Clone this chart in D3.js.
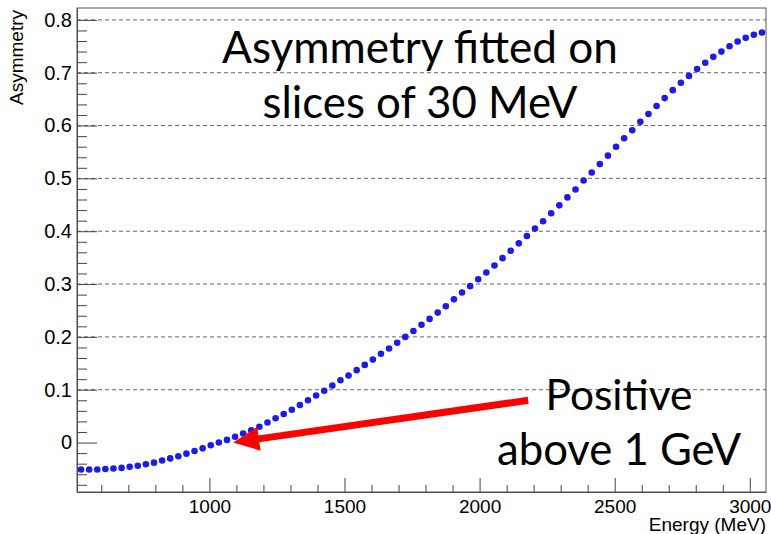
<!DOCTYPE html>
<html>
<head>
<meta charset="utf-8">
<script src="https://cdn.jsdelivr.net/npm/d3@7"></script>
<style>
  body { margin: 0; background: #fff; }
  .axis text { font-family: "Liberation Sans", Arial, sans-serif; font-size: 19px; fill: #000; }
  .yaxis text { font-size: 20px; }
  .axis path, .axis line { stroke: #444; }
  .grid line { stroke: #666; stroke-dasharray: 4,3; }
  .note { font-family: Lato, "Open Sans", sans-serif; fill: #000; }
</style>
</head>
<body>
<div id="chart"></div>
<script>
var WIDTH = 771;
var HEIGHT = 534;

// bin centres of the 30 MeV slices
var energy = [525, 555, 585, 615, 645, 675, 705, 735, 765, 795, 825, 855, 885, 915, 945,
	975, 1005, 1035, 1065, 1095, 1125, 1155, 1185, 1215, 1245, 1275, 1305, 1335, 1365, 1395,
	1425, 1455, 1485, 1515, 1545, 1575, 1605, 1635, 1665, 1695, 1725, 1755, 1785, 1815, 1845,
	1875, 1905, 1935, 1965, 1995, 2025, 2055, 2085, 2115, 2145, 2175, 2205, 2235, 2265, 2295,
	2325, 2355, 2385, 2415, 2445, 2475, 2505, 2535, 2565, 2595, 2625, 2655, 2685, 2715, 2745,
	2775, 2805, 2835, 2865, 2895, 2925, 2955, 2985, 3015, 3045];

var asymmetry = [-0.051, -0.051, -0.051, -0.050, -0.049, -0.048, -0.046, -0.044, -0.041, -0.038,
	-0.034, -0.030, -0.026, -0.021, -0.016, -0.011, -0.005, 0.000, 0.005, 0.011,
	0.017, 0.023, 0.030, 0.038, 0.046, 0.054, 0.062, 0.071, 0.080, 0.089,
	0.098, 0.108, 0.118, 0.127, 0.137, 0.147, 0.157, 0.168, 0.178, 0.189,
	0.200, 0.211, 0.223, 0.234, 0.246, 0.258, 0.271, 0.284, 0.296, 0.309,
	0.322, 0.335, 0.349, 0.363, 0.377, 0.391, 0.405, 0.419, 0.434, 0.449,
	0.464, 0.479, 0.496, 0.511, 0.527, 0.543, 0.560, 0.576, 0.591, 0.607,
	0.622, 0.637, 0.652, 0.667, 0.681, 0.694, 0.707, 0.719, 0.730, 0.740,
	0.750, 0.759, 0.766, 0.772, 0.776];

var xTicks = [1000, 1500, 2000, 2500, 3000];
var xTickLabels = ['1000', '1500', '2000', '2500', '3000'];
var yTicks = [0, 0.1, 0.2, 0.3, 0.4, 0.5, 0.6, 0.7, 0.8];
var yTickLabels = ['0', '0.1', '0.2', '0.3', '0.4', '0.5', '0.6', '0.7', '0.8'];

var titleLines = ['Asymmetry fitted on', 'slices of 30 MeV'];
var noteLines = ['Positive', 'above 1 GeV'];
// arrow from the note down to the zero crossing (MeV, asymmetry)
var arrowTail = [2180, 0.080];
var arrowTip = [1088, 0.0];

var margin = {top: 8, right: 5, bottom: 42, left: 77};
var w = WIDTH - margin.left - margin.right;
var h = HEIGHT - margin.top - margin.bottom;

var svg = d3.select('#chart').append('svg')
	.attr('width', WIDTH)
	.attr('height', HEIGHT);

var g = svg.append('g')
	.attr('transform', 'translate(' + margin.left + ',' + margin.top + ')');

var x = d3.scaleLinear().domain([510, 3060]).range([0, w]);
var y = d3.scaleLinear().domain([-0.0936, 0.8225]).range([h, 0]);

// dashed horizontal grid
g.append('g').attr('class', 'grid')
	.selectAll('line').data(yTicks.slice(1)).enter().append('line')
	.attr('x1', 0).attr('x2', w)
	.attr('y1', function(d) { return y(d); })
	.attr('y2', function(d) { return y(d); });

// minor ticks
var xMinor = d3.range(600, 3060, 100).filter(function(d) { return d % 500 !== 0; });
var yMinor = d3.range(-8, 82, 2).map(function(d) { return d / 100; })
	.filter(function(d) { return Math.round(d * 100) % 10 !== 0; });

g.append('g').attr('class', 'axis')
	.attr('transform', 'translate(0,' + h + ')')
	.call(d3.axisBottom(x).tickValues(xMinor).tickSize(-7).tickFormat(''))
	.select('.domain').remove();

g.append('g').attr('class', 'axis')
	.call(d3.axisLeft(y).tickValues(yMinor).tickSize(-10).tickFormat(''))
	.select('.domain').remove();

// major ticks with labels
g.append('g').attr('class', 'axis')
	.attr('transform', 'translate(0,' + h + ')')
	.call(d3.axisBottom(x).tickValues(xTicks).tickSizeInner(-14).tickSizeOuter(0).tickPadding(8)
		.tickFormat(function(d, i) { return xTickLabels[i]; }));

g.append('g').attr('class', 'axis yaxis')
	.call(d3.axisLeft(y).tickValues(yTicks).tickSizeInner(-20).tickSizeOuter(0).tickPadding(5)
		.tickFormat(function(d, i) { return yTickLabels[i]; }));

// frame
g.append('rect')
	.attr('width', w).attr('height', h)
	.attr('fill', 'none').attr('stroke', '#555');

// axis titles
svg.append('text')
	.attr('transform', 'translate(23,10) rotate(-90)')
	.attr('text-anchor', 'end')
	.style('font-family', '"Liberation Sans", Arial, sans-serif')
	.style('font-size', '19px')
	.text('Asymmetry');

svg.append('text')
	.attr('x', margin.left + w)
	.attr('y', 531)
	.attr('text-anchor', 'end')
	.style('font-family', '"Liberation Sans", Arial, sans-serif')
	.style('font-size', '19px')
	.text('Energy (MeV)');

// data points
g.append('g').selectAll('circle')
	.data(energy).enter().append('circle')
	.attr('cx', function(d) { return x(d); })
	.attr('cy', function(d, i) { return y(asymmetry[i]); })
	.attr('r', 3.3)
	.attr('fill', '#1c1ce8');

// annotations
function fitText(sel, width) {
	var len = sel.node().getComputedTextLength();
	var size = parseFloat(sel.style('font-size'));
	sel.style('font-size', (size * width / len) + 'px');
}

var titleWidths = [396, 315];
titleLines.forEach(function(t, i) {
	var s = svg.append('text').attr('class', 'note')
		.attr('x', 420).attr('y', 63 + i * 55)
		.attr('text-anchor', 'middle')
		.style('font-size', '44px')
		.text(t);
	fitText(s, titleWidths[i]);
});

var noteWidths = [147, 244];
noteLines.forEach(function(t, i) {
	var s = svg.append('text').attr('class', 'note')
		.attr('x', 619).attr('y', 410 + i * 55)
		.attr('text-anchor', 'middle')
		.style('font-size', '44px')
		.text(t);
	fitText(s, noteWidths[i]);
});

// red arrow
var tx = x(arrowTail[0]) + margin.left, ty = y(arrowTail[1]) + margin.top;
var px = x(arrowTip[0]) + margin.left, py = y(arrowTip[1]) + margin.top;
var dx = px - tx, dy = py - ty;
var len = Math.sqrt(dx * dx + dy * dy);
var ux = dx / len, uy = dy / len;
var headLen = 26, headHalf = 12;
var bx = px - ux * headLen, by = py - uy * headLen;

svg.append('line')
	.attr('x1', tx).attr('y1', ty)
	.attr('x2', bx + ux * 2).attr('y2', by + uy * 2)
	.attr('stroke', '#ff0000').attr('stroke-width', 7);

svg.append('path')
	.attr('d', 'M ' + px + ',' + py +
		' L ' + (bx - uy * headHalf) + ',' + (by + ux * headHalf) +
		' L ' + (bx + uy * headHalf) + ',' + (by - ux * headHalf) + ' Z')
	.attr('fill', '#ff0000');
</script>
</body>
</html>
